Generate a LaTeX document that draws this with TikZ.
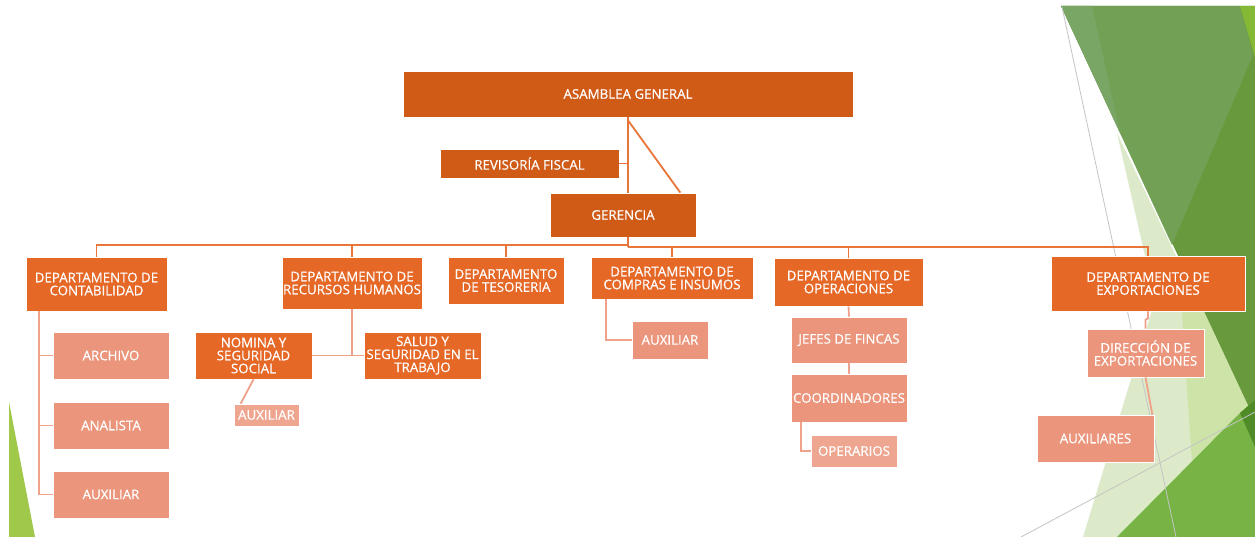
\documentclass[tikz,border=0pt]{standalone}
\usepackage{fontspec}
\setmainfont{Open Sans}[FakeBold=0.5]
\usetikzlibrary{calc}
\definecolor{orgA}{HTML}{D05B17}
\definecolor{orgB}{HTML}{E56827}
\definecolor{salA}{HTML}{EB967C}
\definecolor{salB}{HTML}{EFA690}
\definecolor{lnA}{HTML}{E8763A}
\definecolor{lnB}{HTML}{F0A189}
\definecolor{gDark}{HTML}{68993D}
\definecolor{gMed}{HTML}{72A055}
\definecolor{gBand}{HTML}{79A664}
\definecolor{gBright}{HTML}{84B835}
\definecolor{gLight}{HTML}{DCEAC9}
\definecolor{gLight2}{HTML}{CEE3A8}
\definecolor{gLow}{HTML}{78B445}
\definecolor{gWedge}{HTML}{4F8C28}
\definecolor{gLeft}{HTML}{A0C84A}
\definecolor{gLine}{HTML}{C4C4C4}
\begin{document}
\begin{tikzpicture}[x=1pt,y=-1pt,
  box/.style={rectangle, draw=white, line width=0.7pt, inner sep=0pt, align=center, text=white,
    font=\fontsize{13.3}{13}\selectfont},
  topbox/.style={box, fill=orgA},
  deptbox/.style={box, fill=orgB},
  subbox/.style={box, fill=salA},
  smallbox/.style={box, fill=salB},
  mainline/.style={draw=lnA, line width=1.8pt},
  subline/.style={draw=lnB, line width=1.8pt},
  thinline/.style={draw=gLine, line width=0.8pt}]
\useasboundingbox (0,0) rectangle (1255,537);
\fill[white] (0,0) rectangle (1255,537);
% background facets
\fill[gLight] (1117,133) -- (1155,300) -- (1083,537) -- (1255,537) -- (1255,420) -- cycle;
\fill[gLight2] (1178,255) -- (1197,537) -- (1255,537) -- (1255,420) -- cycle;
\fill[gDark] (1061,6) -- (1255,6) -- (1255,420) -- cycle;
\fill[gMed] (1061,6) -- (1240,6) -- (1253,55) -- (1172,245) -- cycle;
\fill[gBand] (1061,6) -- (1092,6) -- (1120,133) -- cycle;
\fill[gBright] (1240,6) -- (1255,6) -- (1255,58) -- cycle;
\fill[gLow] (1117,537) -- (1240,413) -- (1255,400) -- (1255,537) -- cycle;
\fill[gWedge] (1240,413) -- (1255,400) -- (1255,447) -- cycle;
\fill[gLeft] (9,402) -- (9,537) -- (35,537) -- cycle;
\draw[thinline] (1062,7) -- (1176,537);
\draw[thinline] (1021,537) -- (1255,412);
% nodes
\node[topbox, minimum width=450pt, minimum height=46pt] (asam) at (628,94) {ASAMBLEA GENERAL};
\node[topbox, minimum width=179pt, minimum height=29pt] (revi) at (529.5,163.5) {REVISORÍA FISCAL};
\node[topbox, minimum width=146pt, minimum height=44pt] (gere) at (623,215) {GERENCIA};
\node[deptbox, minimum width=141pt, minimum height=54pt] (conta) at (96.5,284) {DEPARTAMENTO DE\\CONTABILIDAD};
\node[deptbox, minimum width=140pt, minimum height=52pt] (rrhh) at (352,283) {DEPARTAMENTO DE\\RECURSOS HUMANOS};
\node[deptbox, minimum width=116pt, minimum height=47pt] (teso) at (506,280.5) {DEPARTAMENTO\\DE TESORERIA};
\node[deptbox, minimum width=162pt, minimum height=42pt] (comp) at (672,278) {DEPARTAMENTO DE\\COMPRAS E INSUMOS};
\node[deptbox, minimum width=149pt, minimum height=48pt] (oper) at (848.5,282) {DEPARTAMENTO DE\\OPERACIONES};
\node[deptbox, minimum width=194pt, minimum height=55pt] (expo) at (1148,283.5) {DEPARTAMENTO DE\\EXPORTACIONES};
\node[subbox, minimum width=116pt, minimum height=47pt] (arch) at (111,355.5) {ARCHIVO};
\node[subbox, minimum width=116pt, minimum height=47pt] (anal) at (111,425.5) {ANALISTA};
\node[subbox, minimum width=116pt, minimum height=47pt] (auxc) at (111,494.5) {AUXILIAR};
\node[deptbox, minimum width=117pt, minimum height=47pt] (nomi) at (253.5,355.5) {NOMINA Y\\SEGURIDAD\\SOCIAL};
\node[deptbox, minimum width=117pt, minimum height=47pt] (salu) at (422.5,355.5) {SALUD Y\\SEGURIDAD EN EL\\TRABAJO};
\node[smallbox, minimum width=65pt, minimum height=22pt] (auxn) at (266.5,415) {AUXILIAR};
\node[subbox, minimum width=76pt, minimum height=38pt] (auxo) at (670,340) {AUXILIAR};
\node[subbox, minimum width=116pt, minimum height=46pt] (jefe) at (849,340) {JEFES DE FINCAS};
\node[subbox, minimum width=116pt, minimum height=48pt] (coor) at (849,398) {COORDINADORES};
\node[smallbox, minimum width=86pt, minimum height=32pt] (oprs) at (854,451) {OPERARIOS};
\node[subbox, minimum width=117pt, minimum height=48pt] (dire) at (1145.5,353) {DIRECCIÓN DE\\EXPORTACIONES};
\node[subbox, minimum width=117pt, minimum height=47pt] (auxs) at (1095.5,438.5) {AUXILIARES};
% connectors (top)
\coordinate (busA) at (628,245);
\coordinate (busB) at (628,247);
\draw[mainline] (asam.south) -- (asam.south |- gere.north);
\draw[mainline] ($(asam.south)+(0,3)$) -- ($(gere.north east)+(-16,0)$);
\draw[mainline] (revi.east) -- (revi.east -| asam.south);
\draw[mainline] (gere.south -| busA) -- (busB);
\draw[mainline] (conta.north) |- (busA);
\draw[mainline] (rrhh.north) -- (rrhh.north |- busA);
\draw[mainline] (teso.north) -- (teso.north |- busA);
\draw[mainline] (comp.north) -- (comp.north |- busB);
\draw[mainline] (oper.north) -- (oper.north |- busB);
\draw[mainline] (expo.north) |- (busB);
% connectors (lower)
\coordinate (cx) at ($(conta.south west)+(13,0)$);
\draw[subline] (cx) |- (auxc.west);
\draw[subline] (cx |- arch.west) -- (arch.west);
\draw[subline] (cx |- anal.west) -- (anal.west);
\draw[subline] (rrhh.south) -- (rrhh.south |- nomi.east);
\draw[subline] (nomi.east) -- (salu.west);
\draw[subline] (nomi.south) -- ($(auxn.north west)+(7,0)$);
\draw[subline] ($(comp.south west)+(15,0)$) |- (auxo.west);
\draw[subline] (oper.south) -- (jefe.north);
\draw[subline] (jefe.south) -- (coor.north);
\draw[subline] ($(coor.south west)+(10,0)$) |- (oprs.west);
\draw[subline] (expo.south) -- ++(0,7) -- ($(dire.north)+(0,-9)$) -- (dire.north);
\draw[subline] (dire.south) -- ($(auxs.north east)+(-2,0)$);
\end{tikzpicture}
\end{document}
